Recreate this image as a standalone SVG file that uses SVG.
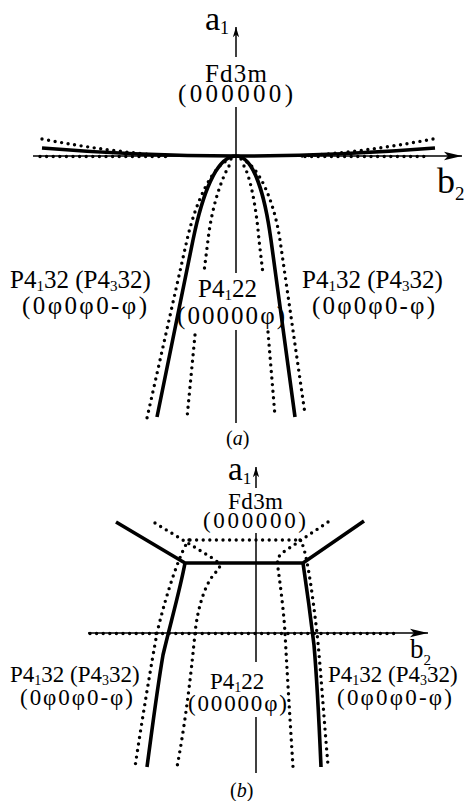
<svg xmlns="http://www.w3.org/2000/svg" width="466" height="801" viewBox="0 0 466 801">
<defs>
<style>
text{font-family:'Liberation Serif','Times New Roman',serif;fill:#000}
.axis{fill:none;stroke:#000;stroke-width:1.5}
.solid{fill:none;stroke:#000;stroke-width:3.6;stroke-linejoin:miter}
.dot{fill:none;stroke:#000;stroke-width:3.4;stroke-linecap:round;stroke-dasharray:0 6.6}
</style>
<marker id="arrH" markerUnits="userSpaceOnUse" markerWidth="20" markerHeight="10" viewBox="-19 -5 20 10" refX="0" refY="0" orient="auto">
<path d="M0,0 L-18,-4.2 L-14,0 L-18,4.2 Z" fill="#000"/>
</marker>
<marker id="arrV" markerUnits="userSpaceOnUse" markerWidth="12" markerHeight="8" viewBox="-12 -4 13 8" refX="0" refY="0" orient="auto">
<path d="M0,0 L-11,-3.4 L-8,0 L-11,3.4 Z" fill="#000"/>
</marker>
</defs>
<rect width="466" height="801" fill="#fff"/>

<g id="connectors-a">
<line class="axis" x1="33" y1="156" x2="462" y2="156" marker-end="url(#arrH)"/>
<line class="axis" x1="236" y1="57" x2="236" y2="27" marker-end="url(#arrV)"/>
<line class="axis" x1="236" y1="107" x2="236" y2="273"/>
<line class="axis" x1="236" y1="330" x2="236" y2="423"/>
<path class="solid" d="M236,156 Q139,156 42,148"/>
<path class="solid" d="M236,156 Q335,156 435,148"/>
<path class="dot" d="M42,139 Q110,152 170,156"/>
<path class="dot" d="M433,139 Q365,152 302,156"/>
<path class="dot" d="M40,156.5 L170,156.5"/>
<path class="dot" d="M305,156.5 L430,156.5"/>
<path class="solid" d="M236,156 C216,156 202,196 193,240 L157,417"/>
<path class="solid" d="M236,156 C254,156 265,196 271,240 L295,417"/>
<path class="dot" d="M231,159 C214,163 196,200 187,240 L147,418"/>
<path class="dot" d="M241,159 C258,164 274,200 280,240 L305,414"/>
<path class="dot" d="M229,166 C222,178 212,205 208,240 L204,272"/>
<path class="dot" d="M195,335 L187,418"/>
<path class="dot" d="M244,166 C250,176 256,205 259,240 L263,274"/>
<path class="dot" d="M268,332 L275,416"/>
</g>

<g id="labels-a">
<g id="a-axis-a1"><text x="205" y="30" font-size="34">a<tspan font-size="18" dy="4">1</tspan></text></g>
<g id="a-axis-b2"><text x="437" y="193" font-size="36">b<tspan font-size="19" dy="7">2</tspan></text></g>
<g id="a-fd3m" font-size="25">
<text x="205" y="82" textLength="62">Fd3m</text>
<text x="178" y="102" textLength="115">(000000)</text>
</g>
<g id="a-left" font-size="25">
<text x="10" y="288">P4<tspan font-size="15" dy="3">1</tspan><tspan dy="-3">32 (P4</tspan><tspan font-size="15" dy="3">3</tspan><tspan dy="-3">32)</tspan></text>
<text x="22" y="314" textLength="125">(0φ0φ0-φ)</text>
</g>
<g id="a-center" font-size="25">
<text x="198" y="297">P4<tspan font-size="15" dy="3">1</tspan><tspan dy="-3">22</tspan></text>
<text x="177" y="324" textLength="108">(00000φ)</text>
</g>
<g id="a-right" font-size="25">
<text x="302" y="288">P4<tspan font-size="15" dy="3">1</tspan><tspan dy="-3">32 (P4</tspan><tspan font-size="15" dy="3">3</tspan><tspan dy="-3">32)</tspan></text>
<text x="312" y="314" textLength="123">(0φ0φ0-φ)</text>
</g>
<g id="caption-a"><text x="226" y="445" font-size="20">(<tspan font-style="italic">a</tspan>)</text></g>
</g>

<g id="connectors-b">
<line class="axis" x1="88" y1="633" x2="428" y2="633" marker-end="url(#arrH)"/>
<line class="axis" x1="256" y1="488" x2="256" y2="467" marker-end="url(#arrV)"/>
<line class="axis" x1="256" y1="533" x2="256" y2="662"/>
<line class="axis" x1="256" y1="717" x2="256" y2="773"/>
<path class="dot" d="M90,633.5 L396,633.5"/>
<path class="solid" d="M116,522 L185,563 L303,563 L364,521"/>
<path class="solid" d="M185,563 C180,590 170,625 163,655 C157,690 152,730 147,767"/>
<path class="solid" d="M303,563 C307,590 311,620 314,645 C317,680 319,720 321,767"/>
<path class="dot" d="M190,540 L300,540"/>
<path class="dot" d="M189,540 C182,548 167,590 157,633 C152,660 142,720 135,767"/>
<path class="dot" d="M300,540 C306,546 312,590 317,633 C320,660 324,720 328,765"/>
<path class="dot" d="M155,523 L214,559 Q224,566 216,572 C206,582 198,605 195,633 C192,665 186,720 177,767"/>
<path class="dot" d="M328,522 L282,553 Q276,558 278,568 C281,590 284,615 285,633 C287,670 290,720 293,767"/>
</g>

<g id="labels-b">
<g id="b-axis-a1"><text x="228" y="480" font-size="33">a<tspan font-size="17" dy="4">1</tspan></text></g>
<g id="b-axis-b2"><text x="410" y="658" font-size="27">b<tspan font-size="15" dy="7">2</tspan></text></g>
<g id="b-fd3m" font-size="23">
<text x="228" y="509" textLength="55">Fd3m</text>
<text x="203" y="528" textLength="103">(000000)</text>
</g>
<g id="b-left" font-size="23">
<text x="10" y="682">P4<tspan font-size="14" dy="3">1</tspan><tspan dy="-3">32 (P4</tspan><tspan font-size="14" dy="3">3</tspan><tspan dy="-3">32)</tspan></text>
<text x="20" y="705" textLength="113">(0φ0φ0-φ)</text>
</g>
<g id="b-center" font-size="23">
<text x="210" y="689">P4<tspan font-size="14" dy="3">1</tspan><tspan dy="-3">22</tspan></text>
<text x="188" y="711" textLength="99">(00000φ)</text>
</g>
<g id="b-right" font-size="23">
<text x="328" y="682">P4<tspan font-size="14" dy="3">1</tspan><tspan dy="-3">32 (P4</tspan><tspan font-size="14" dy="3">3</tspan><tspan dy="-3">32)</tspan></text>
<text x="337" y="705" textLength="115">(0φ0φ0-φ)</text>
</g>
<g id="caption-b"><text x="230" y="797" font-size="20">(<tspan font-style="italic">b</tspan>)</text></g>
</g>
</svg>
